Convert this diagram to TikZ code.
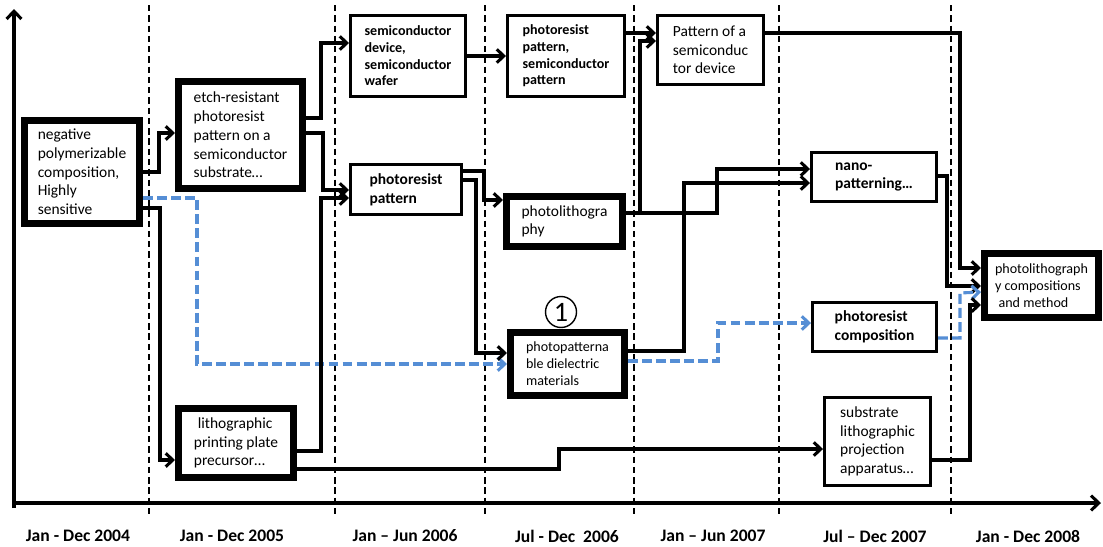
\documentclass[tikz,border=0pt]{standalone}
\usepackage{fontspec}
\setmainfont{Carlito}
\usetikzlibrary{arrows.meta}
\definecolor{linkblue}{RGB}{85,142,213}
\begin{document}
\begin{tikzpicture}[x=0.025cm,y=-0.025cm,
  wh/.style 2 args={minimum width=#1*0.025cm, minimum height=#2*0.025cm},
  thinbox/.style={draw, fill=white, line width=2.4pt, inner sep=0pt, align=left,
    font=\fontsize{11}{13.3}\selectfont},
  thickbox/.style={thinbox, line width=5pt},
  bold/.style={font=\fontsize{11}{13.3}\selectfont\bfseries},
  boldsmall/.style={font=\fontsize{10}{11.9}\selectfont\bfseries},
  small/.style={font=\fontsize{10}{12.1}\selectfont},
  conn/.style={line width=2.2pt, -{Straight Barb[length=5pt,width=9.5pt]}},
  dashlink/.style={conn, draw=linkblue, dash pattern=on 7pt off 3pt},
  axis/.style={line width=2.2pt, -{Straight Barb[length=5.5pt,width=10.5pt]}},
  period/.style={line width=1pt, dash pattern=on 4.5pt off 2.8pt},
  lab/.style={font=\fontsize{12.5}{14}\selectfont\bfseries, inner sep=0pt},
  marker/.style={circle, draw, line width=1pt, minimum size=31*0.025cm, inner sep=0pt,
    font=\fontsize{20}{20}\selectfont}
]
\useasboundingbox (0,0) rectangle (1103,546);

% period separators
\foreach \x/\n in {149/a,335/b,485/c,634/d,779/e,951/f}{
  \coordinate (top\n) at (\x,5);
  \coordinate (bot\n) at (\x,518);
  \draw[period] (top\n) -- (bot\n);
}

% axes
\coordinate (origin) at (14,508);
\coordinate (ytip) at (14,9);
\coordinate (xstart) at (12,503);
\coordinate (xtip) at (1101,503);
\draw[axis] (origin) -- (ytip);
\draw[axis] (xstart) -- (xtip);

% period labels
\node[lab] (p1) at (78,536) {Jan - Dec 2004};
\node[lab] (p2) at (232,536) {Jan - Dec 2005};
\node[lab] (p3) at (405,536) {Jan – Jun 2006};
\node[lab] (p4) at (567,536) {Jul - Dec \ 2006};
\node[lab] (p5) at (713,536) {Jan – Jun 2007};
\node[lab] (p6) at (875,536) {Jul – Dec 2007};
\node[lab] (p7) at (1028,536) {Jan - Dec 2008};

% boxes
\node[thickbox, wh={115}{103}] (neg) at (82,172)
  {negative\\polymerizable\\composition,\\Highly\\sensitive};
\node[thickbox, wh={124}{107}] (etch) at (240.5,135)
  {etch-resistant\\photoresist\\pattern on a\\semiconductor\\substrate…};
\node[thinbox, boldsmall, wh={114.6}{80.6}] (semi) at (408,56)
  {semiconductor\\device,\\semiconductor\\wafer};
\node[thinbox, boldsmall, wh={116.6}{80.6}] (prsp) at (566,56)
  {photoresist\\pattern,\\semiconductor\\pattern};
\node[thinbox, wh={105.6}{68.6}] (patt) at (710.5,50)
  {Pattern of a\\semiconduc\\tor device};
\node[thinbox, bold, wh={110.6}{49.6}] (prp) at (406,189.5)
  {photoresist\\pattern};
\node[thickbox, wh={116}{50}] (phl) at (564.5,221.5)
  {photolithogra\\phy};
\node[thinbox, bold, wh={124.6}{48.6}] (nano) at (874,177)
  {nano-\\patterning…};
\node[thickbox, small, wh={114}{64}] (final) at (1041.5,285.5)
  {photolithograph\\y compositions\\\hspace*{0.25em}and method};
\node[thickbox, small, wh={114}{63}] (ppd) at (567.5,364)
  {photopatterna\\ble dielectric\\materials};
\node[thinbox, bold, wh={123.6}{48.6}] (prc) at (874.5,327)
  {photoresist\\composition};
\node[thinbox, wh={105.6}{87.6}] (sub) at (877.5,441.5)
  {substrate\\lithographic\\projection\\apparatus…};
\node[thickbox, wh={115}{69}] (litho) at (236,443)
  {\hspace*{0.25em}lithographic\\printing plate\\precursor…};

\node[marker] (mark) at (561,312) {1};

% links
\draw[conn] (neg.east |- 0,172) -| (159,133) -- (etch.west |- 0,133);
\draw[conn] (neg.east |- 0,208) -| (160,460) -- (litho.west |- 0,460);
\draw[dashlink] (neg.east |- 0,198) -| (197,364) -- (ppd.west |- 0,364);
\draw[conn] (etch.east |- 0,118) -| (321,43) -- (semi.west |- 0,43);
\draw[conn] (etch.east |- 0,133) -| (323,190) -- (prp.west |- 0,190);
\draw[conn] (litho.east |- 0,451) -| (321,198) -- (prp.west |- 0,198);
\draw[conn] (litho.east |- 0,469) -| (559,449) -- (sub.west |- 0,449);
\draw[conn] (semi.east |- 0,56) -- (prsp.west |- 0,56);
\draw[conn] (prsp.east |- 0,33) -- (patt.west |- 0,33);
\draw[conn] (phl.east |- 0,213) -| (640,41) -- (patt.west |- 0,41);
\draw[conn] (phl.east |- 0,213) -| (717,169) -- (nano.west |- 0,169);
\draw[conn] (ppd.east |- 0,351) -| (684,183) -- (nano.west |- 0,183);
\draw[dashlink] (ppd.east |- 0,361) -| (718,323) -- (prc.west |- 0,323);
\draw[conn] (prp.east |- 0,171) -| (484,200) -- (phl.west |- 0,200);
\draw[conn] (prp.east |- 0,180) -| (476,353) -- (ppd.west |- 0,353);
\draw[conn] (patt.east |- 0,33) -| (960,268) -- (final.west |- 0,268);
\draw[conn] (nano.east |- 0,176) -| (947,286) -- (final.west |- 0,286);
\draw[dashlink] (prc.east |- 0,338) -| (960,293) -- (final.west |- 0,292);
\draw[conn] (sub.east |- 0,460) -| (970,305) -- (final.west |- 0,305);
\end{tikzpicture}
\end{document}
